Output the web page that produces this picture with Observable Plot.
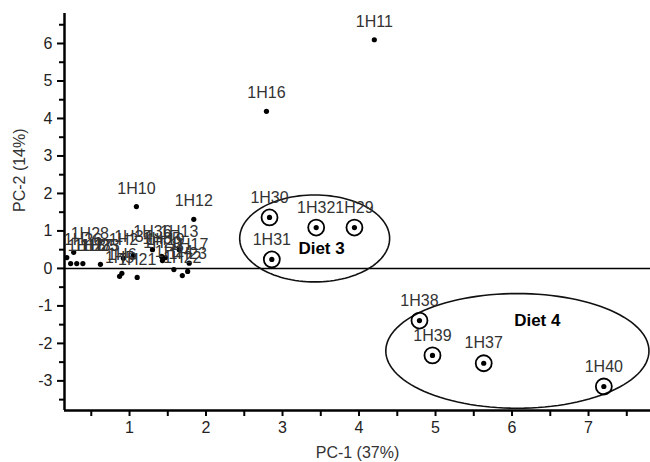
<!DOCTYPE html>
<html>
<head>
<meta charset="utf-8">
<script src="https://cdn.jsdelivr.net/npm/d3@7"></script>
<script src="https://cdn.jsdelivr.net/npm/@observablehq/plot@0.6"></script>
<style>
  html, body { margin: 0; padding: 0; background: #fff; }
  svg { display: block; }
</style>
</head>
<body>
<div id="chart"></div>
<script>
// ---- data ----
const sampleNames = ["1H11","1H16","1H10","1H12",
  "1H28","1H26","1H18","1H27","1H25","1H33","1H34","1H36","1H13","1H35","1H19","1H2","1H17","1H22","1H24","1H21","1H6","1H5","1H20","1H23",
  "1H30","1H32","1H29","1H31","1H38","1H39","1H37","1H40"];
const sampleX = [4.2,2.79,1.09,1.84,
  0.27,0.18,0.23,0.31,0.39,0.62,1.05,1.3,1.65,1.42,1.47,0.92,1.78,1.69,1.58,1.1,0.9,0.87,1.43,1.76,
  2.83,3.44,3.94,2.86,4.79,4.96,5.63,7.2];
const sampleY = [6.1,4.19,1.65,1.31,
  0.43,0.29,0.13,0.13,0.13,0.11,0.35,0.5,0.5,0.32,0.29,0.27,0.14,-0.19,-0.03,-0.24,-0.13,-0.21,0.21,-0.08,
  1.36,1.09,1.09,0.24,-1.39,-2.32,-2.53,-3.15];
const sampleGroup = ["other","other","other","other",
  "other","other","other","other","other","other","other","other","other","other","other","other","other","other","other","other","other","other","other","other",
  "Diet 3","Diet 3","Diet 3","Diet 3","Diet 4","Diet 4","Diet 4","Diet 4"];

const ellipseNames = ["Diet 3","Diet 4"];
const ellipseCx = [3.42, 6.07];
const ellipseCy = [0.8, -2.2];
const ellipseRx = [0.98, 1.72];
const ellipseRy = [1.16, 1.53];
const dietLabelX = [3.51, 6.33];
const dietLabelY = [0.53, -1.39];

const xTitle = "PC-1 (37%)";
const yTitle = "PC-2 (14%)";
const xDomain = [0.15, 7.81];
const yDomain = [-3.79, 6.8];
const xMajor = [1,2,3,4,5,6,7];
const xMinor = [0.5,1.5,2.5,3.5,4.5,5.5,6.5,7.5];
const yMajor = [-3,-2,-1,0,1,2,3,4,5,6];
const yMinor = [-3.5,-2.5,-1.5,-0.5,0.5,1.5,2.5,3.5,4.5,5.5,6.5];

// ---- build tables ----
const samples = sampleNames.map((n,i) => ({name:n, x:sampleX[i], y:sampleY[i], group:sampleGroup[i]}));
const circled = samples.filter(d => d.group !== "other");
const plain = samples.filter(d => d.group === "other");
const plainLeft = plain.filter(d => d.x < 0.45);
const plainRest = plain.filter(d => d.x >= 0.45);
const ellipsePts = [];
ellipseNames.forEach((n,i) => {
  d3.range(0, 361, 3).forEach(a => {
    const t = a * Math.PI / 180;
    ellipsePts.push({name:n, x: ellipseCx[i] + ellipseRx[i]*Math.cos(t), y: ellipseCy[i] + ellipseRy[i]*Math.sin(t)});
  });
});
const dietLabels = ellipseNames.map((n,i) => ({name:n, x:dietLabelX[i], y:dietLabelY[i]}));

const font = "Liberation Sans, Arial, Helvetica, sans-serif";

const chart = Plot.plot({
  width: 650,
  height: 462,
  marginLeft: 64,
  marginRight: 0,
  marginTop: 13,
  marginBottom: 52,
  style: {fontFamily: font, color: "#222", background: "#fff"},
  x: {domain: xDomain},
  y: {domain: yDomain},
  marks: [
    Plot.axisX(xMajor, {tickSize: 6, tickPadding: 5, fontSize: 16, tickFormat: d => String(d), stroke: "#000", strokeWidth: 2, label: null}),
    Plot.axisX(xMinor, {tickSize: 6, tickFormat: () => "", stroke: "#000", strokeWidth: 2, label: null}),
    Plot.axisY(yMajor, {tickSize: 7, tickPadding: 5, fontSize: 16, tickFormat: d => String(d), stroke: "#000", strokeWidth: 2, label: null}),
    Plot.axisY(yMinor, {tickSize: 5, tickFormat: () => "", stroke: "#000", strokeWidth: 2, label: null}),
    Plot.text([xTitle], {frameAnchor: "bottom", dy: 42, lineAnchor: "middle", fontSize: 16, fill: "#333"}),
    Plot.text([yTitle], {frameAnchor: "left", dx: -45, rotate: -90, lineAnchor: "middle", fontSize: 16, fill: "#333"}),
    Plot.ruleX([xDomain[0]], {stroke: "#000", strokeWidth: 2.5}),
    Plot.ruleY([yDomain[0]], {stroke: "#000", strokeWidth: 2.5}),
    Plot.ruleY([0], {stroke: "#000", strokeWidth: 1.5}),
    Plot.line(ellipsePts, {x: "x", y: "y", z: "name", stroke: "#111", strokeWidth: 1.6, curve: "linear-closed"}),
    Plot.dot(samples, {x: "x", y: "y", r: 2.6, fill: "#000"}),
    Plot.dot(circled, {x: "x", y: "y", r: 8, stroke: "#000", strokeWidth: 1.8, fill: "none"}),
    Plot.text(plainRest, {x: "x", y: "y", text: "name", dy: -18, fontSize: 16, fill: "#333"}),
    Plot.text(plainLeft, {x: "x", y: "y", text: "name", dy: -18, dx: -3, textAnchor: "start", fontSize: 16, fill: "#333"}),
    Plot.text(circled, {x: "x", y: "y", text: "name", dy: -20, fontSize: 16, fill: "#333"}),
    Plot.text(dietLabels, {x: "x", y: "y", text: "name", fontSize: 17, fontWeight: "bold", fill: "#000"})
  ]
});
document.getElementById("chart").appendChild(chart);
</script>
</body>
</html>
